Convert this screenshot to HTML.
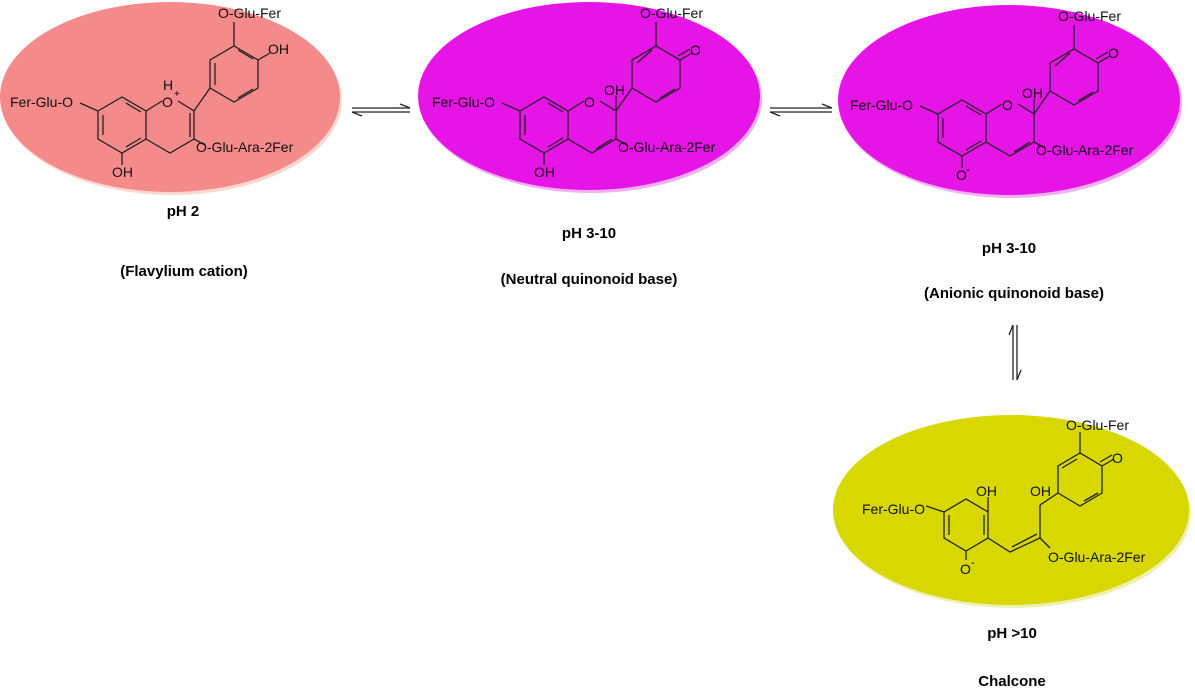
<!DOCTYPE html>
<html><head><meta charset="utf-8"><style>
html,body{margin:0;padding:0;background:#fff;width:1195px;height:697px;overflow:hidden}
svg text{font-family:"Liberation Sans",sans-serif}
.m{font-size:14px;fill:#111}
.lb{font-size:15px;font-weight:bold;fill:#000;text-anchor:middle}
.b{stroke:#222;stroke-width:1.3;fill:none}
</style></head><body>
<svg width="1195" height="697" viewBox="0 0 1195 697">
<defs>
<g id="skel" class="b">
<polyline points="98,111 122,97 146,111 146,139 122,153 98,139 98,111"/>
<line x1="103" y1="115" x2="103" y2="135"/>
<line x1="126" y1="103" x2="141" y2="112"/>
<line x1="126" y1="147" x2="141" y2="138"/>
<polyline points="146,111 162,101"/>
<polyline points="178,101 194,111 194,139 170,153 146,139"/>
<line x1="80" y1="103" x2="98" y2="111"/>
<line x1="122" y1="153" x2="122" y2="165"/>
<line x1="194" y1="139" x2="205" y2="145"/>
<line x1="194" y1="111" x2="210" y2="88"/>
<polyline points="210,88 210,60 234,46 258,60 258,88 234,102 210,88"/>
<line x1="234" y1="46" x2="234" y2="22"/>
</g>
</defs>

<ellipse cx="172" cy="100" rx="170" ry="95" fill="#f8d8d0"/>
<ellipse cx="170" cy="97" rx="170" ry="95" fill="#f48a8a"/>
<ellipse cx="591" cy="99" rx="171" ry="94" fill="#f0b0f0"/>
<ellipse cx="589" cy="96" rx="171" ry="94" fill="#e614e6"/>
<ellipse cx="1011" cy="103" rx="171" ry="95" fill="#f0b0f0"/>
<ellipse cx="1009" cy="100" rx="171" ry="95" fill="#e614e6"/>
<ellipse cx="1013" cy="513" rx="178" ry="95" fill="#eef0b0"/>
<ellipse cx="1011" cy="510" rx="178" ry="95" fill="#d8d800"/>

<!-- molecule 1 -->
<g>
<use href="#skel"/>
<line class="b" x1="190" y1="113" x2="190" y2="137"/>
<line class="b" x1="215" y1="63" x2="215" y2="85"/>
<line class="b" x1="238" y1="50" x2="253" y2="59"/>
<line class="b" x1="238" y1="98" x2="253" y2="89"/>
<line class="b" x1="258" y1="60" x2="270" y2="53"/>
<text class="m" x="10" y="107">Fer-Glu-O</text>
<text class="m" x="162" y="107">O</text><text x="174" y="97" font-size="10">+</text>
<text class="m" x="163" y="90">H</text>
<text class="m" x="112" y="177">OH</text>
<text class="m" x="196" y="152">O-Glu-Ara-2Fer</text>
<text class="m" x="218" y="18">O-Glu-Fer</text>
<text class="m" x="268" y="54">OH</text>
</g>

<!-- molecule 2 -->
<g transform="translate(422,0)">
<use href="#skel"/>
<line class="b" x1="174" y1="149" x2="190" y2="139"/>
<line class="b" x1="215" y1="63" x2="230" y2="50"/>
<line class="b" x1="238" y1="98" x2="253" y2="89"/>
<line class="b" x1="258" y1="60" x2="270" y2="53"/>
<line class="b" x1="256" y1="56" x2="268" y2="49"/>
<line class="b" x1="194" y1="111" x2="194" y2="96"/>
<text class="m" x="10" y="107">Fer-Glu-O</text>
<text class="m" x="162" y="107">O</text>
<text class="m" x="182" y="95">OH</text>
<text class="m" x="112" y="177">OH</text>
<text class="m" x="196" y="152">O-Glu-Ara-2Fer</text>
<text class="m" x="218" y="18">O-Glu-Fer</text>
<text class="m" x="268" y="55">O</text>
</g>

<!-- molecule 3 -->
<g transform="translate(840,3)">
<use href="#skel"/>
<line class="b" x1="174" y1="149" x2="190" y2="139"/>
<line class="b" x1="215" y1="63" x2="230" y2="50"/>
<line class="b" x1="238" y1="98" x2="253" y2="89"/>
<line class="b" x1="258" y1="60" x2="270" y2="53"/>
<line class="b" x1="256" y1="56" x2="268" y2="49"/>
<line class="b" x1="194" y1="111" x2="194" y2="96"/>
<text class="m" x="10" y="107">Fer-Glu-O</text>
<text class="m" x="162" y="107">O</text>
<text class="m" x="182" y="95">OH</text>
<text class="m" x="116" y="177">O</text><text x="126" y="170" font-size="11">-</text>
<text class="m" x="196" y="152">O-Glu-Ara-2Fer</text>
<text class="m" x="218" y="18">O-Glu-Fer</text>
<text class="m" x="268" y="55">O</text>
</g>

<!-- chalcone -->
<g class="b">
<polyline points="944,512 966,499 988,512 988,538 966,551 944,538 944,512"/>
<line x1="949" y1="515" x2="949" y2="535"/>
<line x1="984" y1="515" x2="984" y2="535"/>
<line x1="926" y1="506" x2="944" y2="512"/>
<line x1="988" y1="512" x2="988" y2="497"/>
<line x1="966" y1="551" x2="966" y2="560"/>
<polyline points="988,538 1010,552 1040,538 1040,505"/>
<line x1="1012" y1="547" x2="1037" y2="534"/>
<line x1="1040" y1="538" x2="1050" y2="548"/>
<polyline points="1040,505 1058,493 1058,466 1080,453 1102,466 1102,493 1080,506 1058,493"/>
<line x1="1062" y1="468" x2="1077" y2="459"/>
<line x1="1084" y1="501" x2="1098" y2="493"/>
<line x1="1080" y1="453" x2="1080" y2="432"/>
<line x1="1102" y1="466" x2="1114" y2="459"/>
<line x1="1100" y1="462" x2="1112" y2="455"/>
</g>
<text class="m" x="862" y="514">Fer-Glu-O</text>
<text class="m" x="976" y="496">OH</text>
<text class="m" x="1030" y="496">OH</text>
<text class="m" x="960" y="574">O</text><text x="971" y="566" font-size="11">-</text>
<text class="m" x="1048" y="562">O-Glu-Ara-2Fer</text>
<text class="m" x="1066" y="430">O-Glu-Fer</text>
<text class="m" x="1112" y="463">O</text>

<g stroke="#222" stroke-width="1.3" fill="none">
<line x1="352" y1="108" x2="410" y2="108"/><polyline points="400,104 410,108"/>
<line x1="352" y1="112" x2="410" y2="112"/><polyline points="362,116 352,112"/>
<line x1="770" y1="108" x2="832" y2="108"/><polyline points="822,104 832,108"/>
<line x1="770" y1="112" x2="832" y2="112"/><polyline points="780,116 770,112"/>
<line x1="1013" y1="325" x2="1013" y2="380"/><polyline points="1009,335 1013,325"/>
<line x1="1017" y1="325" x2="1017" y2="380"/><polyline points="1021,370 1017,380"/>
</g>

<text class="lb" x="183" y="216">pH 2</text>
<text class="lb" x="184" y="276">(Flavylium cation)</text>
<text class="lb" x="589" y="238">pH 3-10</text>
<text class="lb" x="589" y="284">(Neutral quinonoid base)</text>
<text class="lb" x="1009" y="253">pH 3-10</text>
<text class="lb" x="1014" y="298">(Anionic quinonoid base)</text>
<text class="lb" x="1012" y="638">pH &gt;10</text>
<text class="lb" x="1012" y="686">Chalcone</text>
</svg>
</body></html>
